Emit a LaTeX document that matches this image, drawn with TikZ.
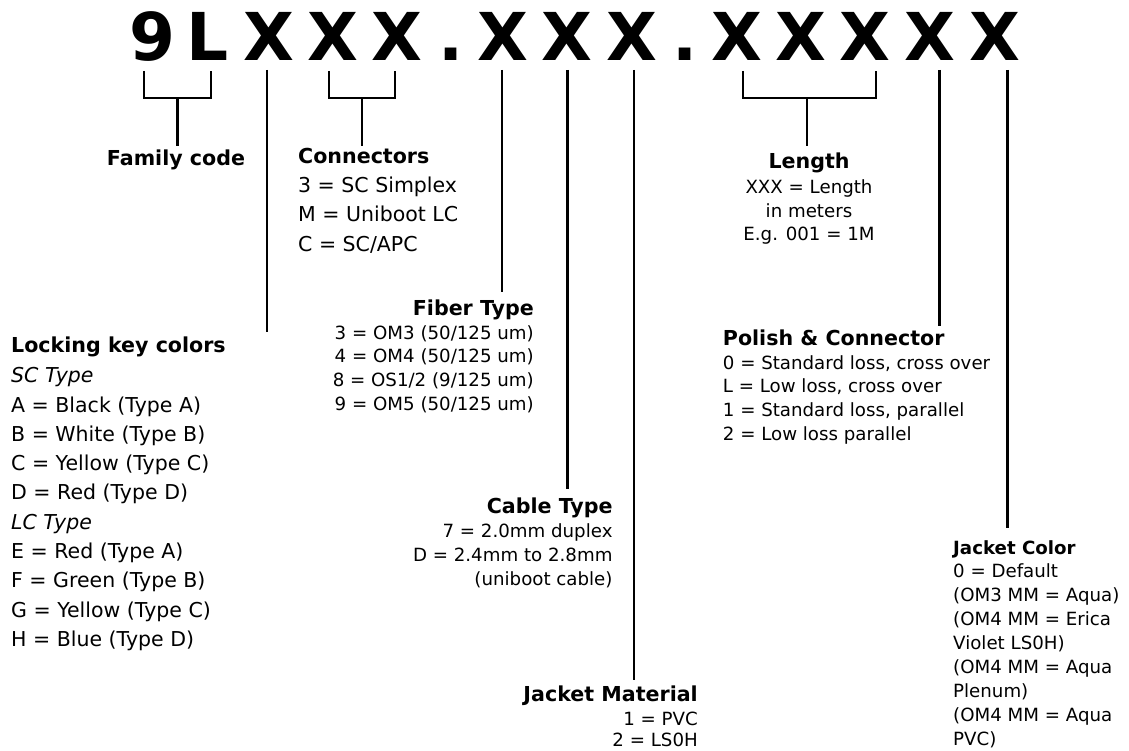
\documentclass[tikz,border=0pt]{standalone}
\usepackage{fontspec}
\setmainfont{DejaVu Sans}

\begin{document}
\begin{tikzpicture}[x=1pt, y=-1pt,
  every node/.style={inner sep=0pt},
  code/.style={font=\fontsize{66}{66}\selectfont\bfseries, anchor=base},
  head/.style={font=\fontsize{20.6}{24}\selectfont\bfseries},
  subhead/.style={font=\fontsize{18.2}{24}\selectfont\bfseries},
  biglist/.style={font=\fontsize{20.5}{29.3}\selectfont},
  smalllist/.style={font=\fontsize{18.2}{23.6}\selectfont},
  leg/.style={line width=2.3pt}]

	\useasboundingbox (0,0) rectangle (1129,751);

	% part number
	\node[code] (c9) at (152,61) {9};
	\node[code] (cL) at (208,61) {L};
	\node[code] (x1) at (269,61) {X};
	\node[code] (x2) at (333,61) {X};
	\node[code] (x3) at (397,61) {X};
	\node[code] (d1) at (451,61) {.};
	\node[code] (x4) at (503,61) {X};
	\node[code] (x5) at (567,61) {X};
	\node[code] (x6) at (632,61) {X};
	\node[code] (d2) at (685,61) {.};
	\node[code] (x7) at (737,61) {X};
	\node[code] (x8) at (801,61) {X};
	\node[code] (x9) at (865,61) {X};
	\node[code] (x10) at (930,61) {X};
	\node[code] (x11) at (995,61) {X};

	% headings and values (lists sit on the baseline of their last line)
	\node[head, anchor=base] (famhead) at (176,166) {Family code};

	\node[head, anchor=base west] (conhead) at (298,163.5) {Connectors};
	\node[biglist, anchor=base west, align=left] (conlist) at (298,251.3)
	  {3 = SC Simplex\\M = Uniboot LC\\C = SC/APC};

	\node[head, anchor=base east] (fibhead) at (534,315) {Fiber Type};
	\node[smalllist, anchor=base east, align=right] (fiblist) at (534,410)
	  {3 = OM3 (50/125 um)\\4 = OM4 (50/125 um)\\8 = OS1/2 (9/125 um)\\9 = OM5 (50/125 um)};

	\node[head, anchor=base west] (lockhead) at (11,352.3) {Locking key colors};
	\node[biglist, anchor=base west, align=left] (locklist) at (11,646.4)
	  {\textit{SC Type}\\A = Black (Type A)\\B = White (Type B)\\C = Yellow (Type C)\\D = Red (Type D)\\
	   \textit{LC Type}\\E = Red (Type A)\\F = Green (Type B)\\G = Yellow (Type C)\\H = Blue (Type D)};

	\node[head, anchor=base] (lenhead) at (809,169) {Length};
	\node[smalllist, anchor=base, align=center] (lenlist) at (809,240.9)
	  {XXX = Length\\in meters\\E.g. 001 = 1M};

	\node[head, anchor=base west] (polhead) at (722.7,345) {Polish \& Connector};
	\node[smalllist, anchor=base west, align=left] (pollist) at (722.7,440)
	  {0 = Standard loss, cross over\\L = Low loss, cross over\\1 = Standard loss, parallel\\2 = Low loss parallel};

	\node[head, anchor=base east] (cabhead) at (612.7,513.3) {Cable Type};
	\node[smalllist, anchor=base east, align=right] (cablist) at (612.7,585)
	  {7 = 2.0mm duplex\\D = 2.4mm to 2.8mm\\(uniboot cable)};

	\node[head, anchor=base east] (jmhead) at (698,701.7) {Jacket Material};
	\node[smalllist, anchor=base east, align=right, font=\fontsize{18.2}{21}\selectfont] (jmlist) at (698,746.5)
	  {1 = PVC\\2 = LS0H};

	\node[subhead, anchor=base west] (jchead) at (953,554) {Jacket Color};
	\node[smalllist, anchor=base west, align=left, font=\fontsize{18.2}{24}\selectfont] (jclist) at (953,745)
	  {0 = Default\\(OM3 MM = Aqua)\\(OM4 MM = Erica\\Violet LS0H)\\(OM4 MM = Aqua\\Plenum)\\(OM4 MM = Aqua\\PVC)};

	% leader lines
	\coordinate (famL) at (144,71);
	\coordinate (famR) at (211,71);
	\coordinate (famM) at (177.5,98);
	\coordinate (conL) at (329,71);
	\coordinate (conR) at (395,71);
	\coordinate (conM) at (362,98);
	\coordinate (lenL) at (743,71);
	\coordinate (lenR) at (876,71);
	\coordinate (lenM) at (807,98);
	\coordinate (lockT) at (267,70);
	\coordinate (fibT) at (502,70);
	\coordinate (cabT) at (567.5,70);
	\coordinate (jmT) at (634,70);
	\coordinate (polT) at (939.5,70);
	\coordinate (jcT) at (1007.5,70);

	\draw[leg] (famL) |- (famM) -| (famR);
	\draw[leg] (conL) |- (conM) -| (conR);
	\draw[leg] (lenL) |- (lenM) -| (lenR);
	\draw[leg, shorten >=4pt] (famM) -- (famM |- famhead.north);
	\draw[leg, shorten >=2pt] (conM) -- (conM |- conhead.north);
	\draw[leg, shorten >=7pt] (lenM) -- (lenM |- lenhead.north);
	\draw[leg, shorten >=4pt] (lockT) -- (lockT |- lockhead.north);
	\draw[leg, shorten >=7pt] (fibT) -- (fibT |- fibhead.north);
	\draw[leg, shorten >=8.5pt] (cabT) -- (cabT |- cabhead.north);
	\draw[leg, shorten >=6pt] (jmT) -- (jmT |- jmhead.north);
	\draw[leg, shorten >=3pt] (polT) -- (polT |- polhead.north);
	\draw[leg, shorten >=12pt] (jcT) -- (jcT |- jchead.north);
\end{tikzpicture}
\end{document}
